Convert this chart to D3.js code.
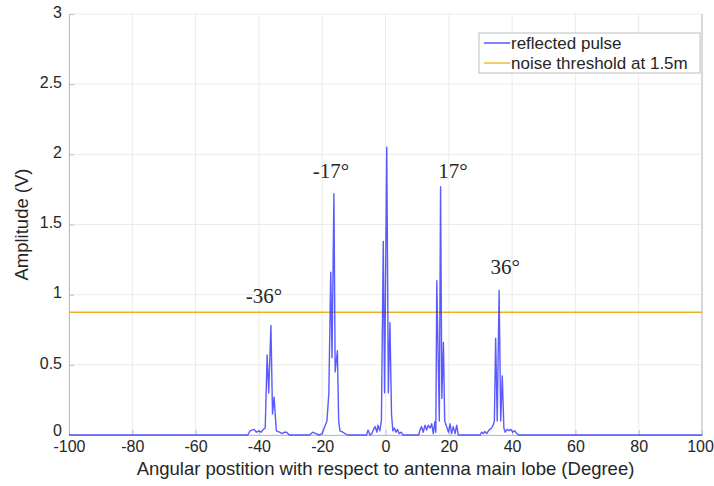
<!DOCTYPE html>
<html>
<head>
<meta charset="utf-8">
<script src="https://cdn.jsdelivr.net/npm/d3@7"></script>
<style>
  body { margin: 0; background: #fff; }
  text { font-family: "Liberation Sans", Helvetica, Arial, sans-serif; fill: #262626; }
</style>
</head>
<body>
<script>
// angle (deg) and amplitude (V)
const angle = [-100, -43.5, -42.8, -41.5, -40.8, -40, -39.3, -38.6, -38, -37.4, -36.9, -36.2, -35.7, -35.2, -34.5,
  -33.5, -32.6, -32, -31.2, -30.4, -24, -23, -22, -21, -20, -19.7, -18.5, -17.9, -17.3, -16.9, -16.3, -15.9, -15.2,
  -14.8, -14.4, -13.5, -12.8, -12, -6, -5.5, -4.9, -4.3, -3.8, -3.3, -2.7, -2.4, -1.8, -1.3, -0.7, -0.3, 0.4, 0.9,
  1.4, 1.9, 2.3, 2.8, 3.3, 3.8, 4.3, 5, 5.5, 10.5, 10.9, 11.4, 11.9, 12.5, 13, 13.5, 14.1, 14.6, 15.1, 15.6, 15.9,
  16.2, 17.0, 17.4, 17.8, 18.3, 18.7, 19.3, 19.9, 20.4, 20.9, 21.4, 22, 22.5, 23, 29.9, 30.4, 30.9, 31.4, 32, 32.5,
  33, 33.5, 34, 34.4, 34.8, 35.3, 35.9, 36.4, 36.9, 37.4, 37.8, 38.4, 39, 39.6, 40.2, 40.8, 41.5, 42, 100]
const amplitude = [0, 0, 0.03, 0.04, 0.02, 0.03, 0.02, 0.04, 0.05, 0.57, 0.3, 0.78, 0.15, 0.27, 0.03,
  0.02, 0.01, 0.02, 0.02, 0, 0, 0.02, 0.01, 0, 0.01, 0.03, 0.1, 0.3, 1.16, 0.55, 1.72, 0.45, 0.6,
  0.1, 0.03, 0.02, 0.01, 0, 0, 0.035, 0, 0.01, 0.04, 0.06, 0.02, 0.07, 0.03, 0.1, 1.38, 0.3, 2.05, 0.3,
  0.8, 0.15, 0.03, 0.05, 0.02, 0.04, 0.01, 0.02, 0, 0, 0.036, 0.06, 0.02, 0.07, 0.036, 0.07, 0.05, 0.08, 0.01, 0.095, 0.02,
  1.1, 0.1, 1.77, 0.26, 0.66, 0.1, 0.06, 0.02, 0.08, 0.01, 0.06, 0.01, 0.07, 0, 0, 0.02, 0.01, 0.025, 0.01, 0.03,
  0.04, 0.05, 0.07, 0.1, 0.69, 0.1, 1.03, 0.1, 0.42, 0.05, 0.02, 0.04, 0.03, 0.04, 0.02, 0.03, 0.01, 0, 0]
const threshold = 0.875

const xTicks = d3.range(-100, 101, 20)
const yTicks = [0, 0.5, 1, 1.5, 2, 2.5, 3]

const peakLabels = ['-36°', '-17°', '17°', '36°']
const peakAngles = [-38.4, -17.2, 21.3, 37.8]
const peakLevels = [0.94, 1.83, 1.83, 1.15]

const seriesNames = ['reflected pulse', 'noise threshold at 1.5m']
const colors = ['#3d3dff', '#edb120']

const width = 714, height = 486
const margin = {left: 69, right: 12, top: 14, bottom: 51}

const svg = d3.select('body').append('svg')
  .attr('width', width)
  .attr('height', height)

const x = d3.scaleLinear().domain([-100, 100]).range([margin.left, width - margin.right])
const y = d3.scaleLinear().domain([0, 3]).range([height - margin.bottom, margin.top])

// grid
svg.append('g')
  .selectAll('line.gx')
  .data(xTicks)
  .join('line')
  .attr('x1', d => x(d)).attr('x2', d => x(d))
  .attr('y1', y(0)).attr('y2', y(3))
  .attr('stroke', '#ebebeb')
svg.append('g')
  .selectAll('line.gy')
  .data(yTicks)
  .join('line')
  .attr('x1', x(-100)).attr('x2', x(100))
  .attr('y1', d => y(d)).attr('y2', d => y(d))
  .attr('stroke', '#ebebeb')

// axes
const fmt = d => String(d)   // plain hyphen for negatives, like the original
const xAxis = svg.append('g')
  .attr('transform', `translate(0,${y(0)})`)
  .call(d3.axisBottom(x).tickValues(xTicks).tickSize(-5).tickPadding(7).tickFormat(fmt))
const yAxis = svg.append('g')
  .attr('transform', `translate(${x(-100)},0)`)
  .call(d3.axisLeft(y).tickValues(yTicks).tickSize(-5).tickPadding(7).tickFormat(fmt))
;[xAxis, yAxis].forEach(a => {
  a.select('.domain').attr('stroke', '#bdbdbd')
  a.selectAll('.tick line').attr('stroke', '#bdbdbd')
  a.selectAll('.tick text').attr('font-size', 16).attr('fill', '#262626')
    .attr('font-family', '"Liberation Sans", Helvetica, Arial, sans-serif')
})
yAxis.selectAll('.tick text').attr('dy', d => d === 0 ? '0.05em' : '0.2em')
xAxis.selectAll('.tick text').attr('dy', '0.65em')
  .attr('dx', d => d === 100 ? -2 : 0)

// right edge of the box
svg.append('line')
  .attr('x1', x(100)).attr('x2', x(100)).attr('y1', y(0)).attr('y2', y(3))
  .attr('stroke', '#bdbdbd')

// threshold
svg.append('line')
  .attr('x1', x(-100)).attr('x2', x(100))
  .attr('y1', y(threshold)).attr('y2', y(threshold))
  .attr('stroke', colors[1]).attr('stroke-width', 1.6)

// pulse trace
const data = angle.map((a, i) => ({a: a, v: amplitude[i]}))
const line = d3.line().x(d => x(d.a)).y(d => y(d.v))
svg.append('path')
  .attr('d', line(data))
  .attr('fill', 'none')
  .attr('stroke', colors[0])
  .attr('stroke-opacity', 0.85)
  .attr('stroke-width', 1.4)
  .attr('stroke-linejoin', 'round')

// peak labels
svg.selectAll('text.peak')
  .data(peakLabels)
  .join('text')
  .attr('class', 'peak')
  .attr('x', (d, i) => x(peakAngles[i]))
  .attr('y', (d, i) => y(peakLevels[i]))
  .attr('text-anchor', 'middle')
  .style('font-family', '"Liberation Serif", "Times New Roman", serif')
  .attr('font-size', 21)
  .text(d => d)

// axis titles
svg.append('text')
  .attr('x', (x(-100) + x(100)) / 2)
  .attr('y', 475)
  .attr('text-anchor', 'middle')
  .attr('font-size', 18.5)
  .text('Angular postition with respect to antenna main lobe (Degree)')
svg.append('text')
  .attr('transform', `translate(28,${y(1.5)}) rotate(-90)`)
  .attr('text-anchor', 'middle')
  .attr('font-size', 18.5)
  .text('Amplitude (V)')

// legend
const lg = svg.append('g').attr('transform', 'translate(479,33)')
lg.append('rect')
  .attr('width', 221).attr('height', 40)
  .attr('fill', '#fff').attr('stroke', '#bdbdbd')
lg.selectAll('line')
  .data(seriesNames)
  .join('line')
  .attr('x1', 5).attr('x2', 31)
  .attr('y1', (d, i) => 10 + i * 20).attr('y2', (d, i) => 10 + i * 20)
  .attr('stroke', (d, i) => colors[i])
  .attr('stroke-width', 1.3)
lg.selectAll('text')
  .data(seriesNames)
  .join('text')
  .attr('x', 32)
  .attr('y', (d, i) => 16 + i * 20)
  .attr('font-size', 17)
  .text(d => d)
</script>
</body>
</html>
